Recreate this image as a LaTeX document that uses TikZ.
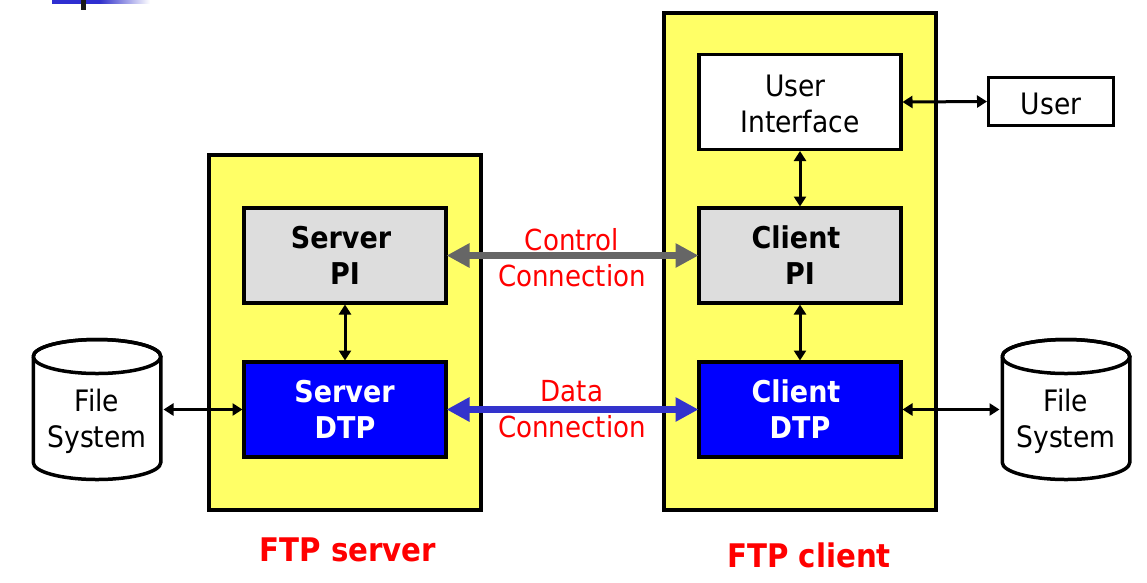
\documentclass[tikz,border=0pt]{standalone}
\usepackage{fontspec}
\setmainfont[FakeStretch=0.9]{DejaVu Sans}
\usetikzlibrary{arrows.meta,calc}
\definecolor{panelyellow}{HTML}{FFFF66}
\definecolor{pigrey}{HTML}{DDDDDD}
\definecolor{dtpblue}{HTML}{0000FF}
\definecolor{ctrlgrey}{HTML}{666666}
\definecolor{datablue}{HTML}{3333CC}
\tikzset{
  x=1pt,y=-1pt,
  panel/.style={draw=black,line width=4pt,fill=panelyellow,minimum width=272pt,outer sep=0pt,inner sep=0pt},
  box/.style={draw=black,line width=3.5pt,minimum width=202pt,minimum height=95pt,align=center,outer sep=0pt,inner sep=0pt,font=\fontsize{29.5}{36}\selectfont},
  pibox/.style={box,fill=pigrey,font=\fontsize{30}{36}\selectfont\bfseries},
  dtpbox/.style={box,fill=dtpblue,text=white,font=\fontsize{30}{36}\selectfont\bfseries},
  plainbox/.style={box,fill=white},
  cyl/.style={minimum width=130pt,minimum height=143pt,outer sep=0pt,inner sep=0pt},
  cylline/.style={draw=black,line width=3.5pt},
  txt/.style={align=center,inner sep=0pt,font=\fontsize{29.5}{36}\selectfont},
  redtxt/.style={txt,text=red,font=\fontsize{29}{36}\selectfont},
  title/.style={inner sep=0pt,text=red,font=\fontsize{32.5}{36}\selectfont\bfseries},
  link/.style={line width=3pt,{Triangle[length=10pt,width=12pt]}-{Triangle[length=10pt,width=12pt]},shorten >=1.5pt,shorten <=1.5pt},
  ctrl/.style={line width=7pt,draw=ctrlgrey,{Triangle[length=23pt,width=23pt]}-{Triangle[length=23pt,width=23pt]},shorten >=0.5pt,shorten <=0.5pt},
  datal/.style={ctrl,draw=datablue},
}
\begin{document}
\begin{tikzpicture}
\useasboundingbox (0,0) rectangle (1147,582);
% header remnant
\fill[datablue!90!blue] (52,0) rectangle (100,3.5);
\shade[left color=datablue,right color=white] (100,0) rectangle (150,3.5);
\fill[black!90] (81,0) rectangle (86,10);
% panels
\node[panel,minimum height=355pt] (srv) at (345,332.5) {};
\node[panel,minimum height=497pt] (cli) at (800,261.5) {};
% boxes
\node[pibox] (spi) at (345,255.5) {Server\hspace*{8pt}\\PI};
\node[dtpbox] (sdtp) at (345,409.5) {Server\hspace*{1pt}\\DTP};
\node[plainbox] (ui) at (800,102) {};
\node[txt] (uit) at (800,104) {User\hspace*{9pt}\\Interface};
\node[pibox] (cpi) at (800,255.5) {Client\hspace*{8pt}\\PI};
\node[dtpbox] (cdtp) at (800,409.5) {Client\hspace*{8pt}\\DTP};
\node[box,fill=white,minimum width=125pt,minimum height=48pt] (user) at (1051,101.5) {};
\node[txt] (usert) at (1051,104) {User};
% cylinders
\node[cyl] (fsl) at (97,409.5) {};
\node[cyl] (fsr) at (1066,409.5) {};
\foreach \n in {fsl,fsr}{
  \draw[cylline,fill=white] ($(\n.north west)+(1.25,18.5)$) -- ($(\n.south west)+(1.25,-18.5)$)
     arc[start angle=180,end angle=360,x radius=63.75pt,y radius=17pt]
     -- ($(\n.north east)+(-1.25,18.5)$)
     arc[start angle=0,end angle=180,x radius=63.75pt,y radius=17pt] -- cycle;
  \draw[cylline] ($(\n.north west)+(1.25,18.5)$) arc[start angle=180,end angle=540,x radius=63.75pt,y radius=17pt];
}
\node[txt] (fslt) at (97,421.5) {File\\System};
\node[txt] (fsrt) at (1066,421.5) {File\\System};
% labels
\node[redtxt] (cl) at (572,257.5) {Control\\Connection};
\node[redtxt] (dl) at (572,409) {Data\\Connection};
\node[title] (ts) at (348,550) {FTP server};
\node[title] (tc) at (809,555) {FTP client};
% connectors
\draw[ctrl] (spi.east) -- (cpi.west);
\draw[datal] (sdtp.east) -- (cdtp.west);
\draw[link] (spi.south) -- (sdtp.north);
\draw[link] (ui.south) -- (cpi.north);
\draw[link] (cpi.south) -- (cdtp.north);
\draw[link] (ui.east) -- (user.west);
\draw[link] (fsl.east) -- (sdtp.west);
\draw[link] (cdtp.east) -- (fsr.west);
\end{tikzpicture}
\end{document}
